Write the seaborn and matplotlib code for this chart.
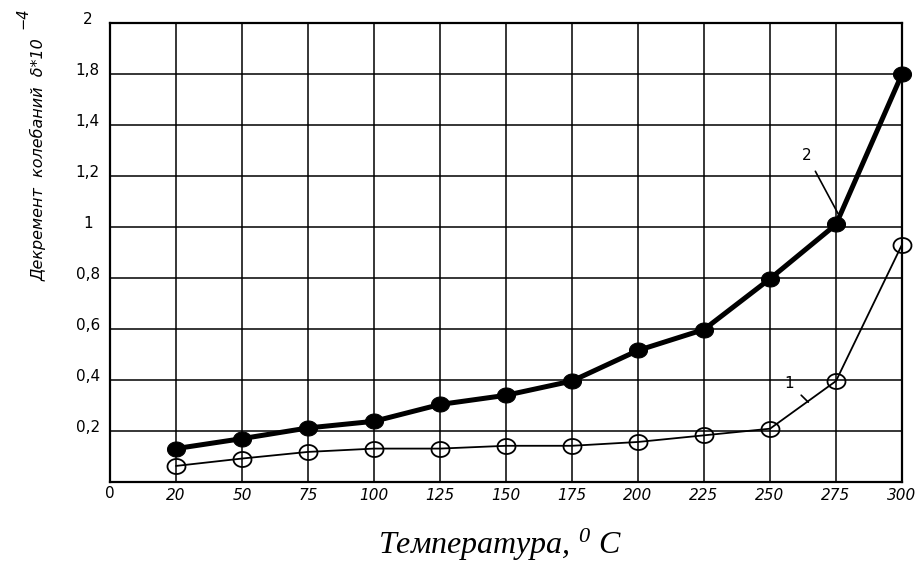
import numpy as np
import pandas as pd
import matplotlib
matplotlib.use("Agg")
import matplotlib.pyplot as plt
import matplotlib.transforms as mtransforms
import seaborn as sns

# Temperature categories (equally spaced on the axis)
temp_labels = ["0", "20", "50", "75", "100", "125", "150", "175",
               "200", "225", "250", "275", "300"]
temps = ["20", "50", "75", "100", "125", "150", "175",
         "200", "225", "250", "275", "300"]

# Damping decrement, x10^-4
curve1 = [0.063, 0.092, 0.118, 0.131, 0.131, 0.142, 0.142,
          0.157, 0.183, 0.209, 0.396, 0.931]
curve2 = [0.131, 0.170, 0.212, 0.238, 0.304, 0.340, 0.396,
          0.516, 0.598, 0.797, 1.010, 1.600]

y_ticks = [0.2, 0.4, 0.6, 0.8, 1.0, 1.2, 1.4, 1.6, 1.8]
y_tick_labels = ["0,2", "0,4", "0,6", "0,8", "1", "1,2", "1,4", "1,8", "2"]

pos = [temp_labels.index(t) for t in temps]
df = pd.DataFrame({
    "pos": pos * 2,
    "val": curve1 + curve2,
    "curve": ["1"] * len(temps) + ["2"] * len(temps),
})

sns.set_style("white")
plt.rcParams["font.family"] = ["DejaVu Sans"]
plt.rcParams["text.color"] = "black"
plt.rcParams["xtick.color"] = "black"
plt.rcParams["ytick.color"] = "black"
plt.rcParams["mathtext.fontset"] = "custom"
plt.rcParams["mathtext.rm"] = "Liberation Serif:italic"
plt.rcParams["mathtext.it"] = "Liberation Serif:italic"

W, H = 921, 565
fig = plt.figure(figsize=(W / 100, H / 100), dpi=100)
left, right, top, bottom = 110, 902, 23, 482
ax = fig.add_axes([left / W, 1 - bottom / H, (right - left) / W, (bottom - top) / H])

# slightly wide elliptical marker
t = np.linspace(0, 2 * np.pi, 40)
ellipse = np.column_stack([1.2 * np.cos(t), np.sin(t)])

sub1 = df[df["curve"] == "1"]
sub2 = df[df["curve"] == "2"]
sns.lineplot(data=sub1, x="pos", y="val", ax=ax, color="black", lw=1.3,
             marker=ellipse, markersize=13, markerfacecolor="none",
             markeredgecolor="black", markeredgewidth=1.3, zorder=4,
             clip_on=False)
sns.lineplot(data=sub2, x="pos", y="val", ax=ax, color="black", lw=3.6,
             marker=ellipse, markersize=13, markerfacecolor="black",
             markeredgecolor="black", zorder=5, clip_on=False)

ax.set_xlim(0, 12)
ax.set_ylim(0, 1.8)
ax.set_xticks(range(len(temp_labels)))
ax.set_xticklabels(temp_labels)
ax.set_yticks(y_ticks)
ax.set_yticklabels(y_tick_labels)
ax.grid(True, color="black", lw=1.1)
ax.set_axisbelow(True)
for s in ax.spines.values():
    s.set_color("black")
    s.set_linewidth(1.6)
    s.set_visible(True)

ax.tick_params(axis="both", length=0, labelcolor="black")
ax.tick_params(axis="y", pad=16, labelsize=11)
ax.tick_params(axis="x", pad=4, labelsize=11)
for lab in ax.get_yticklabels():
    lab.set_horizontalalignment("center")
    lab.set_transform(lab.get_transform() +
                      mtransforms.ScaledTranslation(0, 5 / 100, fig.dpi_scale_trans))
for i, lab in enumerate(ax.get_xticklabels()):
    if i > 0:
        lab.set_fontstyle("italic")
    else:
        lab.set_transform(lab.get_transform() +
                          mtransforms.ScaledTranslation(0, 2 / 100, fig.dpi_scale_trans))

ax.set_xlabel("")
ax.set_ylabel("")

# curve numbers with leader lines
ax.annotate("2", xy=(11.03, 1.053), xytext=(10.56, 1.28), fontsize=11,
            ha="center", va="center",
            arrowprops=dict(arrowstyle="-", color="black", lw=1.2,
                            shrinkA=4, shrinkB=0))
ax.annotate("1", xy=(10.58, 0.313), xytext=(10.29, 0.387), fontsize=11,
            ha="center", va="center",
            arrowprops=dict(arrowstyle="-", color="black", lw=1.2,
                            shrinkA=4, shrinkB=0))

# axis titles
fig.text(39 / W, 1 - 160 / H, "Декремент  колебаний  δ*10", rotation=90,
         fontsize=11.5, fontstyle="italic", ha="center", va="center")
fig.text(23 / W, 1 - 18 / H, "−4", rotation=90, fontsize=10.5,
         fontstyle="italic", ha="center", va="center")
fig.text(500 / W, 1 - 545 / H, r"Температура, $^{0}$ C",
         family="Liberation Serif", fontstyle="italic", fontsize=23,
         ha="center", va="center")

fig.savefig("out.png", dpi=100, facecolor="white")
